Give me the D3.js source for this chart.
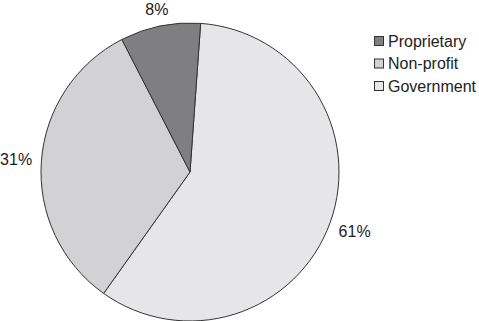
<!DOCTYPE html>
<html>
<head>
<title>Ownership pie</title>
<style>
  body { margin: 0; background: #fff; }
  svg { display: block; }
  text { font-family: "Liberation Sans", Arial, sans-serif; fill: #222; }
</style>
<script src="https://cdn.jsdelivr.net/npm/d3@7"></script>
</head>
<body>
<svg id="chart" width="479" height="321"></svg>
<script>
// slices in drawing order (clockwise from just right of 12 o'clock)
var categories = ['Government', 'Non-profit', 'Proprietary'];
// shares as drawn (angles)
var shares = [58.7, 32.6, 8.7];
// printed labels
var labels = ['61%', '31%', '8%'];
var colors = ['#e6e6e8', '#d2d2d4', '#7f7f81'];
// legend order
var legendOrder = ['Proprietary', 'Non-profit', 'Government'];

var svg = d3.select('#chart');
var cx = 190, cy = 172, r = 149;

var data = categories.map(function(c, i) {
  return { name: c, value: shares[i], label: labels[i], color: colors[i] };
});

var start = 4.1 * Math.PI / 180;
var pie = d3.pie().sort(null).value(function(d) { return d.value; })
  .startAngle(start).endAngle(start + 2 * Math.PI);
var arc = d3.arc().innerRadius(0).outerRadius(r);

var g = svg.append('g').attr('transform', 'translate(' + cx + ',' + cy + ')');
var arcs = pie(data);

g.selectAll('path').data(arcs).enter().append('path')
  .attr('d', arc)
  .attr('fill', function(d) { return d.data.color; })
  .attr('stroke', '#333')
  .attr('stroke-width', 1)
  .attr('stroke-linejoin', 'round');

// labels outside the rim, pushed out by half the text box
var gap = r + 9;
g.selectAll('text.lbl').data(arcs).enter().append('text')
  .attr('class', 'lbl')
  .attr('font-size', '16px')
  .attr('text-anchor', 'middle')
  .attr('dominant-baseline', 'central')
  .text(function(d) { return d.data.label; })
  .each(function(d) {
    var a = (d.startAngle + d.endAngle) / 2;
    var bb = this.getBBox();
    var s = Math.sin(a), c = Math.cos(a);
    var dist = gap + bb.width / 2 * Math.abs(s) + 5.5 * Math.abs(c);
    d3.select(this).attr('x', dist * s).attr('y', -dist * c);
  });

// legend
var lg = svg.append('g').attr('transform', 'translate(374,36)');
var row = lg.selectAll('g').data(legendOrder).enter().append('g')
  .attr('transform', function(d, i) { return 'translate(0,' + (i * 22.5) + ')'; });
row.append('rect')
  .attr('x', 0.5).attr('y', 0.5).attr('width', 9).attr('height', 9)
  .attr('fill', function(d) { return colors[categories.indexOf(d)]; })
  .attr('stroke', '#333').attr('stroke-width', 1);
row.append('text')
  .attr('x', 14).attr('y', 10.5)
  .attr('font-size', '16px')
  .text(function(d) { return d; });
</script>
</body>
</html>
